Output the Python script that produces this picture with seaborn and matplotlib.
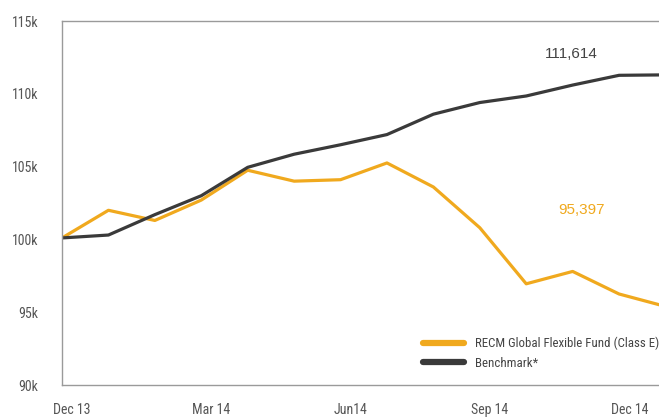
import numpy as np
import pandas as pd
import matplotlib
matplotlib.use("Agg")
import matplotlib.pyplot as plt
import seaborn as sns

# monthly values, Dec 13 .. Jan 15 (last point cropped at the right edge)
months = list(range(14))
fund = [100100, 102000, 101300, 102700, 104750, 104000, 104100,
        105250, 103600, 100800, 96950, 97800, 96250, 95397]
bench = [100100, 100300, 101700, 103000, 104950, 105850, 106500,
         107200, 108600, 109400, 109850, 110600, 111270, 111300]
tick_idx = [0, 3, 6, 9, 12]
tick_labels = ["Dec 13", "Mar 14", "Jun14", "Sep 14", "Dec 14"]
y_ticks = [90000, 95000, 100000, 105000, 110000, 115000]
names = ["RECM Global Flexible Fund (Class E)", "Benchmark*"]

YELLOW = "#F0A91E"
DARK = "#3a3a3a"
GREY_TXT = "#555555"

sns.set_style("white")
plt.rcParams["font.family"] = ["Roboto Condensed", "DejaVu Sans"]
plt.rcParams["font.stretch"] = "condensed"

fig = plt.figure(figsize=(6.59, 4.19), dpi=100)
ax = fig.add_axes([62 / 659, 1 - 385 / 419, 1 - 62 / 659, (385 - 21) / 419])

df = pd.DataFrame({"month": months, "fund": fund, "bench": bench})
sns.lineplot(data=df, x="month", y="fund", color=YELLOW, lw=2.3, ax=ax, label=names[0])
sns.lineplot(data=df, x="month", y="bench", color=DARK, lw=2.3, ax=ax, label=names[1])

ax.set_xlim(0, 12.86)
ax.set_ylim(90000, 115000)
ax.set_xticks([i + 0.22 for i in tick_idx])
ax.set_xticklabels(tick_labels)
ax.set_yticks(y_ticks)
ax.set_yticklabels([f"{v // 1000}k" for v in y_ticks])
ax.tick_params(axis="both", length=0, labelsize=10, colors=GREY_TXT)
ax.tick_params(axis="x", pad=13)
ax.tick_params(axis="y", pad=17)
ax.set_xlabel("")
ax.set_ylabel("")

for side in ["left", "top", "bottom"]:
    ax.spines[side].set_color("#9a9a9a")
    ax.spines[side].set_linewidth(1.0)
ax.spines["right"].set_visible(False)

num_font = dict(family=["Liberation Sans", "DejaVu Sans"], stretch="normal", fontsize=11)
ax.text(10.97, 112730, "111,614", color="#444444", ha="center", va="center", **num_font)
ax.text(11.19, 102000, "95,397", color=YELLOW, ha="center", va="center", **num_font)

leg = ax.legend(loc="upper left", bbox_to_anchor=(423 / 659, 1 - 337 / 419),
                bbox_transform=fig.transFigure, frameon=False, fontsize=9.3,
                handlelength=3.2, handletextpad=0.8, labelspacing=0.5,
                borderpad=0, borderaxespad=0)
for line in leg.get_lines():
    line.set_linewidth(4.5)
for t in leg.get_texts():
    t.set_color("#444444")

fig.savefig("out.png", dpi=100)
